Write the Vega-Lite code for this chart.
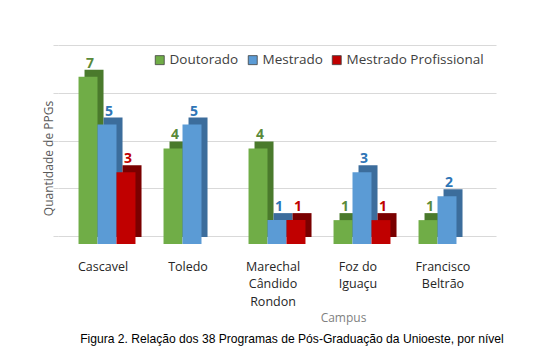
{
  "$schema": "https://vega.github.io/schema/vega-lite/v6.json",
  "autosize": {"type": "none"},
  "padding": {"left": 58, "top": 45, "right": 64, "bottom": 112},
  "width": 438,
  "height": 199,
  "background": "white",
  "config": {"view": {"stroke": null}, "font": "Open Sans"},
  "title": {
    "text": "Figura 2. Relação dos 38 Programas de Pós-Graduação da Unioeste, por nível",
    "orient": "bottom",
    "anchor": "middle",
    "frame": "group",
    "dx": 15,
    "offset": 10,
    "font": "Liberation Sans",
    "fontSize": 12.1,
    "fontWeight": "normal",
    "color": "#000000"
  },
  "data": {
    "values": [
      {"campus": "Cascavel", "nivel": "Doutorado", "valor": 7},
      {"campus": "Cascavel", "nivel": "Mestrado", "valor": 5},
      {"campus": "Cascavel", "nivel": "Mestrado Profissional", "valor": 3},
      {"campus": "Toledo", "nivel": "Doutorado", "valor": 4},
      {"campus": "Toledo", "nivel": "Mestrado", "valor": 5},
      {"campus": "Marechal Cândido Rondon", "nivel": "Doutorado", "valor": 4},
      {"campus": "Marechal Cândido Rondon", "nivel": "Mestrado", "valor": 1},
      {"campus": "Marechal Cândido Rondon", "nivel": "Mestrado Profissional", "valor": 1},
      {"campus": "Foz do Iguaçu", "nivel": "Doutorado", "valor": 1},
      {"campus": "Foz do Iguaçu", "nivel": "Mestrado", "valor": 3},
      {"campus": "Foz do Iguaçu", "nivel": "Mestrado Profissional", "valor": 1},
      {"campus": "Francisco Beltrão", "nivel": "Doutorado", "valor": 1},
      {"campus": "Francisco Beltrão", "nivel": "Mestrado", "valor": 2}
    ]
  },
  "encoding": {
    "x": {
      "field": "campus",
      "type": "nominal",
      "sort": ["Cascavel", "Toledo", "Marechal Cândido Rondon", "Foz do Iguaçu", "Francisco Beltrão"],
      "scale": {"paddingInner": 0.33, "paddingOuter": 0.2415},
      "axis": {
        "title": "Campus",
        "titleFont": "Open Sans",
        "titleFontSize": 12,
        "titleFontWeight": "normal",
        "titleColor": "#7f7f7f",
        "titleX": 285,
        "titleY": 73,
        "titleBaseline": "middle",
        "labelAngle": 0,
        "labelFont": "Open Sans",
        "labelFontSize": 12.5,
        "labelColor": "#262626",
        "labelPadding": 16,
        "labelOffset": -4,
        "labelLineHeight": 17.5,
        "labelExpr": "datum.value == 'Marechal Cândido Rondon' ? ['Marechal', 'Cândido', 'Rondon'] : datum.value == 'Foz do Iguaçu' ? ['Foz do', 'Iguaçu'] : datum.value == 'Francisco Beltrão' ? ['Francisco', 'Beltrão'] : datum.value",
        "domain": false,
        "ticks": false,
        "grid": false
      }
    }
  },
  "layer": [
    {
      "mark": {"type": "bar", "opacity": 0},
      "encoding": {
        "xOffset": {"field": "nivel", "type": "nominal", "scale": {"paddingInner": 0, "paddingOuter": 0}},
        "y": {
          "field": "valor",
          "type": "quantitative",
          "scale": {"domain": [-0.335, 8], "zero": false, "nice": false},
          "axis": {
            "values": [0, 2, 4, 6, 8],
            "labels": false,
            "domain": false,
            "ticks": true,
            "tickSize": 5,
            "tickColor": "#d9d9d9",
            "grid": true,
            "gridColor": "#d9d9d9",
            "gridWidth": 1,
            "title": "Quantidade de PPGs",
            "titleFont": "Open Sans",
            "titleFontSize": 12,
            "titleFontWeight": "normal",
            "titleColor": "#595959",
            "titleX": -10,
            "titleY": 113,
            "titleBaseline": "middle"
          }
        }
      }
    },
    {
      "mark": {"type": "bar", "yOffset": -7, "y2Offset": -7},
      "encoding": {
        "xOffset": {"field": "nivel", "type": "nominal", "scale": {"domain": ["Doutorado", "Mestrado", "Mestrado Profissional"], "range": [6, 63.0], "paddingInner": 0, "paddingOuter": 0}},
        "y": {"field": "valor", "type": "quantitative", "scale": {"domain": [0, 8.335], "nice": false}, "axis": null},
        "color": {
          "field": "nivel",
          "type": "nominal",
          "scale": {"domain": ["Doutorado", "Mestrado", "Mestrado Profissional"], "range": ["#4a7a2c", "#3c6d9c", "#7a0000"]},
          "legend": null
        }
      }
    },
    {
      "encoding": {
        "xOffset": {"field": "nivel", "type": "nominal", "scale": {"domain": ["Doutorado", "Mestrado", "Mestrado Profissional"], "paddingInner": 0, "paddingOuter": 0}},
        "y": {"field": "valor", "type": "quantitative", "scale": {"domain": [0, 8.335], "nice": false}, "axis": null}
      },
      "layer": [
        {
          "mark": {"type": "bar"},
          "encoding": {
            "color": {
              "field": "nivel",
              "type": "nominal",
              "scale": {"domain": ["Doutorado", "Mestrado", "Mestrado Profissional"], "range": ["#70ad47", "#5b9bd5", "#c00000"]},
              "legend": {
                "title": null,
                "orient": "none",
                "direction": "horizontal",
                "legendX": 95,
                "legendY": 8,
                "symbolType": "square",
                "symbolSize": 81,
                "symbolStrokeWidth": 0.8,
                "symbolStrokeColor": "#404040",
                "labelFont": "Open Sans",
                "labelFontSize": 13.5,
                "labelColor": "#404040",
                "labelOffset": 3,
                "columnPadding": 7,
                "padding": 0
              }
            }
          }
        },
        {
          "mark": {"type": "text", "fontWeight": "bold", "fontSize": 14, "font": "Open Sans", "baseline": "alphabetic", "dx": 2, "dy": -9},
          "encoding": {
            "text": {"field": "valor", "type": "quantitative"},
            "color": {
              "field": "nivel",
              "type": "nominal",
              "scale": {"domain": ["Doutorado", "Mestrado", "Mestrado Profissional"], "range": ["#5a8a3a", "#2e75b6", "#c00000"]},
              "legend": null
            }
          }
        }
      ],
      "resolve": {"scale": {"color": "independent"}}
    }
  ],
  "resolve": {"scale": {"y": "independent", "color": "independent", "xOffset": "independent"}}
}
